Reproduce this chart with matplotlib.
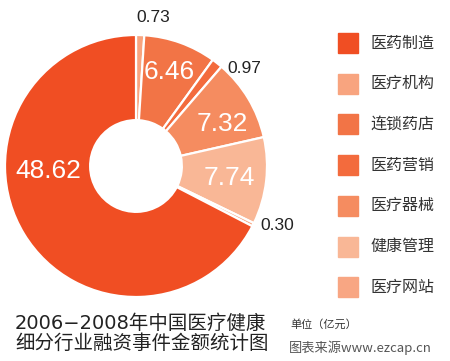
import numpy as np
import matplotlib
matplotlib.use("Agg")
import matplotlib.pyplot as plt
from matplotlib.patches import Rectangle

plt.rcParams['font.family'] = ['Noto Sans CJK SC', 'DejaVu Sans']

# data (clockwise from 12 o'clock)
categories = ['医疗机构', '连锁药店', '医药营销', '医疗器械', '健康管理', '医疗网站', '医药制造']
values = [0.73, 6.46, 0.97, 7.32, 7.74, 0.30, 48.62]
colors = ['#F8A47F', '#F27446', '#F36B3D', '#F58C60', '#F9B796', '#F8A683', '#F04E23']
legend_order = ['医药制造', '医疗机构', '连锁药店', '医药营销', '医疗器械', '健康管理', '医疗网站']

fig = plt.figure(figsize=(4.5, 3.61), dpi=100)
W, H = 450, 361
cx, cy, R = 136, 166, 131
lim = 1.2
half = R * lim
ax = fig.add_axes([(cx - half) / W, (H - cy - half) / H, 2 * half / W, 2 * half / H])

wedges, _ = ax.pie(values, colors=colors, startangle=90, counterclock=False,
                   radius=1.0, wedgeprops=dict(width=0.65, edgecolor='white', linewidth=1.6))
ax.set_xlim(-lim, lim)
ax.set_ylim(-lim, lim)
ax.set_aspect('equal')
ax.axis('off')

# labels
inside = {6.46: (0.76, 0), 7.32: (0.73, -5), 7.74: (0.72, -1), 48.62: (0.67, -28)}
outside = {0.73: (1.13, 1.5), 0.97: (1.02, -5), 0.30: (1.05, 1)}
for w, v in zip(wedges, values):
    mid = (w.theta1 + w.theta2) / 2
    if v in inside:
        r, da = inside[v]
        a = np.deg2rad(mid + da)
        ax.text(r * np.cos(a), r * np.sin(a), f'{v:.2f}', color='white', fontsize=19,
                family='Liberation Sans', ha='center', va='center')
    else:
        r, da = outside[v]
        a = np.deg2rad(mid + da)
        ax.text(r * np.cos(a), r * np.sin(a), f'{v:.2f}', color='#222222', fontsize=12.5,
                family='Liberation Sans', ha='left', va='center')

# legend
color_of = dict(zip(categories, colors))
for i, name in enumerate(legend_order):
    yc = 43 + i * 40.7
    fig.patches.append(Rectangle((338 / W, 1 - (yc + 10) / H), 20 / W, 20 / H,
                                 transform=fig.transFigure, color=color_of[name]))
    fig.text(370 / W, 1 - yc / H, name, fontsize=11.5, color='#333333',
             ha='left', va='center')

# title and notes
fig.text(15 / W, 1 - 323 / H, '2006−2008年中国医疗健康', fontsize=14, color='#222222',
         ha='left', va='center', family=['DejaVu Sans', 'Noto Sans CJK SC'])
fig.text(15 / W, 1 - 343 / H, '细分行业融资事件金额统计图', fontsize=14, color='#222222',
         ha='left', va='center')
fig.text(290 / W, 1 - 324 / H, '单位（亿元）', fontsize=8, color='#333333',
         ha='left', va='center')
fig.text(289 / W, 1 - 348 / H, '图表来源www.ezcap.cn', fontsize=9.5, color='#555555',
         ha='left', va='center')

fig.savefig('out.png', dpi=100)
